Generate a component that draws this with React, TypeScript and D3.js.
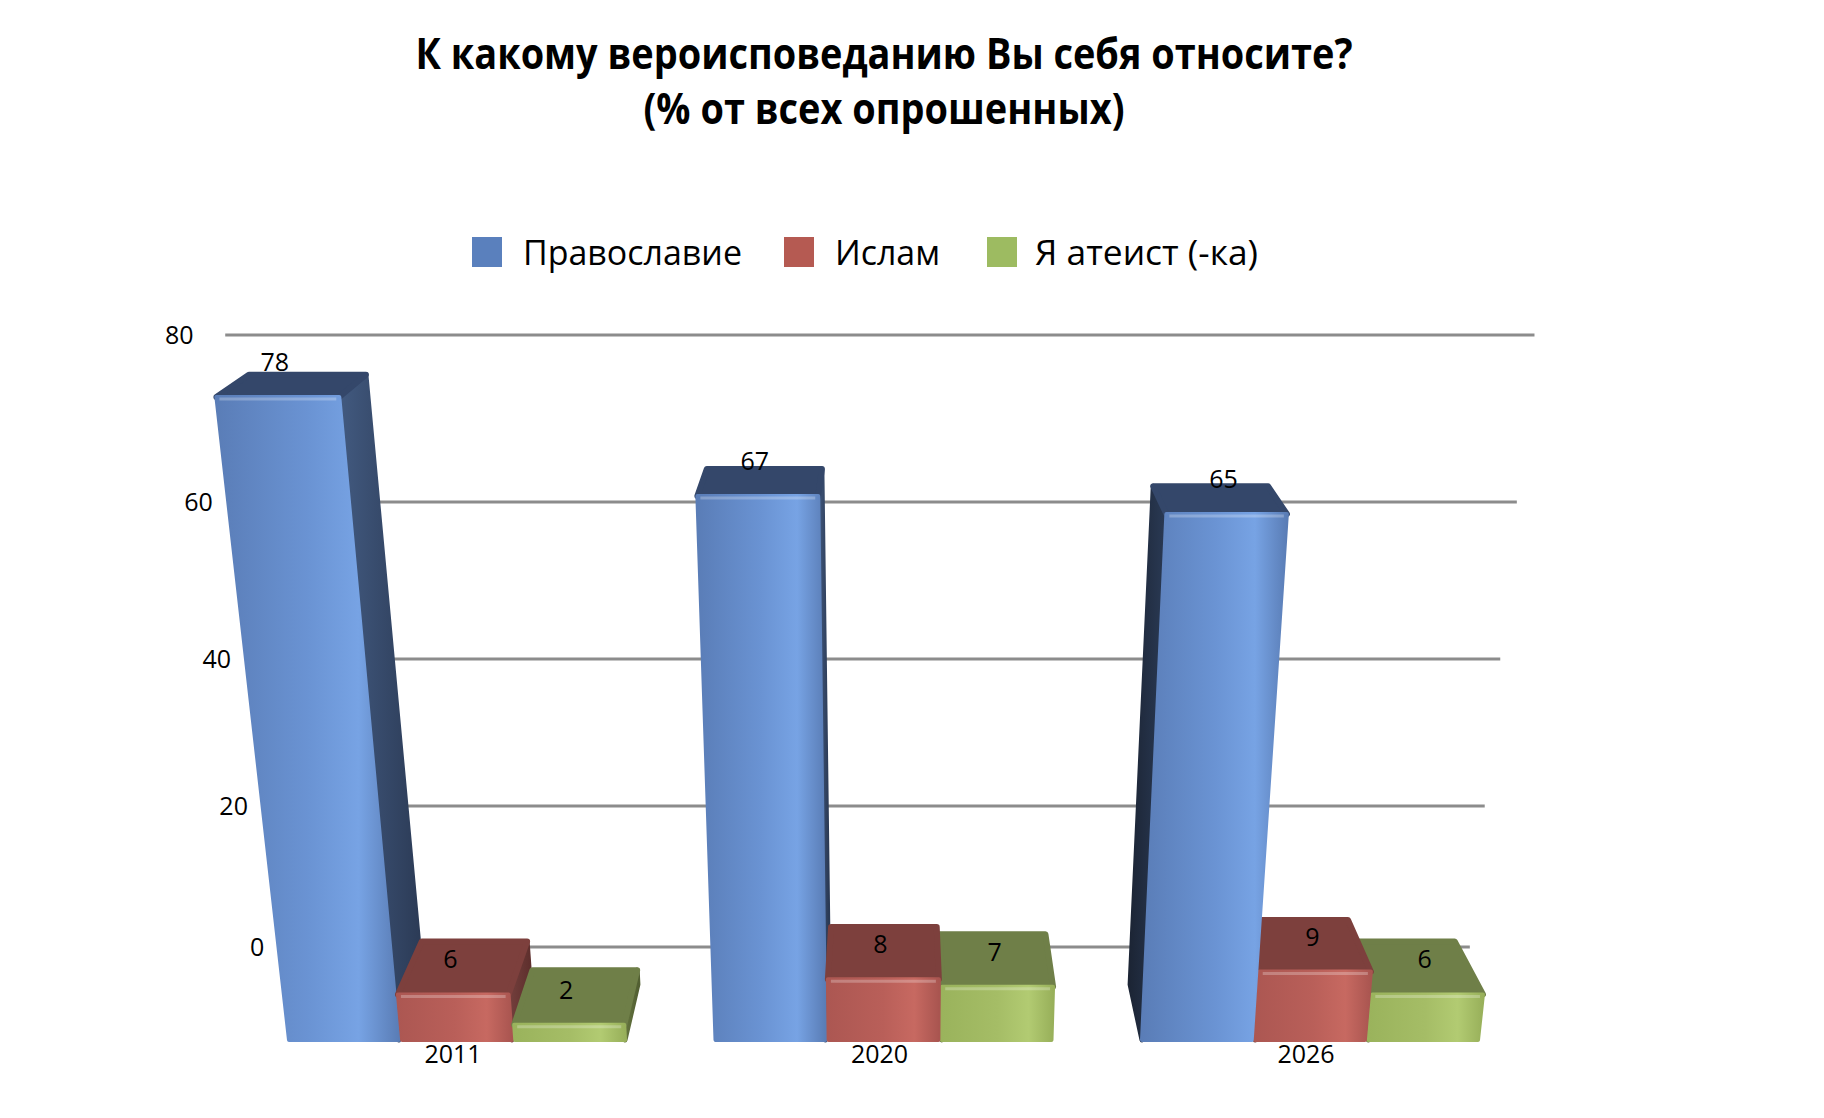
import React from "react";
import * as d3 from "d3";

const categories = ["2011", "2020", "2026"];
const seriesNames = ["Православие", "Ислам", "Я атеист (-ка)"];
const orthodox = [78, 67, 65];
const islam = [6, 8, 9];
const atheist = [2, 7, 6];
const yTicks = [0, 20, 40, 60, 80];
const titleLines = ["К какому вероисповеданию Вы себя относите?", "(% от всех опрошенных)"];

const seriesValues = [orthodox, islam, atheist];

const W = 1824;
const H = 1118;
const VPX = 894;
const VPY = 6397;
const YREF = 1040;

const palette = [
  { front: ["#5a7db7", "#6a93d3", "#77a3e4", "#5a7db6"], top: "#34476a", side: ["#425a80", "#2b3a55"], sideL: ["#1c2535", "#2a3a55"], legend: "#5a80bd" },
  { front: ["#ac5752", "#b95f59", "#c76961", "#a95550"], top: "#7d403d", side: ["#74403d", "#5e2f2d"], sideL: ["#4e2624", "#6a3532"], legend: "#b55a52" },
  { front: ["#9ab35c", "#a5bd66", "#b2cb72", "#98b05a"], top: "#6f7f48", side: ["#66763f", "#525f32"], sideL: ["#46512a", "#5e6c3a"], legend: "#9dbb61" },
];

function persp(xw: number, y: number) {
  return VPX + ((xw - VPX) * (VPY - y)) / (VPY - YREF);
}
const depthDx = (x: number) => -0.048 * (x - VPX);
const depthDy = (v: number) => -(55.5 - 0.426 * v);

export default function App() {
  const wallY = d3.scaleLinear().domain(yTicks).range([947, 806, 659, 502, 335]);
  const frontY = d3.scaleLinear().domain(yTicks).range([1040, 888, 729, 559, 379]);
  const xGroup = d3.scalePoint<string>().domain(categories).range([457, 1310]);
  const xSeries = d3.scaleBand<string>().domain(seriesNames).range([-168, 168]).paddingInner(0.03);
  const bw = xSeries.bandwidth();

  const line = d3.line<[number, number]>();

  type Bar = { ci: number; si: number; v: number; xl: number; xr: number };
  const bars: Bar[] = [];
  categories.forEach((c, ci) => {
    seriesNames.forEach((s, si) => {
      const xl = (xGroup(c) as number) + (xSeries(s) as number);
      bars.push({ ci, si, v: seriesValues[si][ci], xl, xr: xl + bw });
    });
  });
  const drawOrder = [...bars].sort(
    (a, b) => Math.abs(b.xl + bw / 2 - VPX) - Math.abs(a.xl + bw / 2 - VPX)
  );

  const gridLeft = 303;
  const gridRight = 1460;
  const labelRight = 275;

  const legendLayout = [
    { sq: 472, tx: 523, len: 219 },
    { sq: 784, tx: 835, len: 105 },
    { sq: 987, tx: 1035, len: 223 },
  ];

  const font = "'Open Sans', 'Noto Sans', sans-serif";

  return (
    <svg
      width={W}
      height={H}
      viewBox={`0 0 ${W} ${H}`}
      style={{ position: "absolute", left: 0, top: 0, display: "block", background: "#ffffff" }}
    >
      <defs>
        {palette.map((p, i) => (
          <React.Fragment key={i}>
            <linearGradient id={`front${i}`} x1="0" x2="1" y1="0" y2="0">
              <stop offset="0" stopColor={p.front[0]} />
              <stop offset="0.5" stopColor={p.front[1]} />
              <stop offset="0.78" stopColor={p.front[2]} />
              <stop offset="1" stopColor={p.front[3]} />
            </linearGradient>
            <linearGradient id={`side${i}`} x1="0" x2="1" y1="0" y2="0">
              <stop offset="0" stopColor={p.side[0]} />
              <stop offset="1" stopColor={p.side[1]} />
            </linearGradient>
            <linearGradient id={`sideL${i}`} x1="0" x2="1" y1="0" y2="0">
              <stop offset="0" stopColor={p.sideL[0]} />
              <stop offset="1" stopColor={p.sideL[1]} />
            </linearGradient>
          </React.Fragment>
        ))}
      </defs>
      <rect x={0} y={0} width={W} height={H} fill="#ffffff" />

      {/* title */}
      {titleLines.map((t, i) => (
        <text
          key={i}
          x={884}
          y={i === 0 ? 69 : 124}
          textAnchor="middle"
          fontFamily={font}
          fontWeight={700}
          fontSize={43}
          textLength={i === 0 ? 937 : 481}
          lengthAdjust="spacingAndGlyphs"
          fill="#000"
        >
          {t}
        </text>
      ))}

      {/* legend */}
      {seriesNames.map((s, i) => (
        <g key={s}>
          <rect x={legendLayout[i].sq} y={237} width={30} height={30} fill={palette[i].legend} />
          <text
            x={legendLayout[i].tx}
            y={265}
            fontFamily={font}
            fontSize={35}
            textLength={legendLayout[i].len}
            lengthAdjust="spacingAndGlyphs"
            fill="#000"
          >
            {s}
          </text>
        </g>
      ))}

      {/* gridlines and y labels */}
      {yTicks.map((t) => {
        const y = wallY(t);
        return (
          <g key={t}>
            <line
              x1={persp(gridLeft, y)}
              x2={persp(gridRight, y)}
              y1={y}
              y2={y}
              stroke="#8c8c8c"
              strokeWidth={3}
            />
            <text
              x={persp(labelRight, y)}
              y={y + 9}
              textAnchor="end"
              fontFamily={font}
              fontSize={25}
              fill="#000"
            >
              {t}
            </text>
          </g>
        );
      })}

      {/* bars */}
      {drawOrder.map((b) => {
        const yT = frontY(b.v);
        const yB = YREF;
        const xlT = persp(b.xl, yT);
        const xrT = persp(b.xr, yT);
        const xlB = persp(b.xl, yB);
        const xrB = persp(b.xr, yB);
        const dyT = depthDy(b.v);
        const dyB = depthDy(0);
        const p = palette[b.si];
        const dxR = depthDx(xrT);
        const dxL = depthDx(xlT);
        const front: [number, number][] = [
          [xlT, yT],
          [xrT, yT],
          [xrB, yB],
          [xlB, yB],
        ];
        const top: [number, number][] = [
          [xlT, yT],
          [xlT + dxL, yT + dyT],
          [xrT + dxR, yT + dyT],
          [xrT, yT],
        ];
        let side: [number, number][] | null = null;
        let sideFill = "";
        if (dxR > 2) {
          side = [
            [xrT, yT],
            [xrT + dxR, yT + dyT],
            [xrB + depthDx(xrB), yB + dyB],
            [xrB, yB],
          ];
          sideFill = `url(#side${b.si})`;
        } else if (dxL < -2) {
          side = [
            [xlT + dxL, yT + dyT],
            [xlT, yT],
            [xlB, yB],
            [xlB + depthDx(xlB), yB + dyB],
          ];
          sideFill = `url(#sideL${b.si})`;
        }
        return (
          <g key={`${b.ci}-${b.si}`}>
            {side && (
              <path
                d={line(side) + "Z"}
                fill={sideFill}
                stroke={sideFill}
                strokeWidth={5}
                strokeLinejoin="round"
              />
            )}
            <path
              d={line(top) + "Z"}
              fill={p.top}
              stroke={p.top}
              strokeWidth={6}
              strokeLinejoin="round"
            />
            <path
              d={line(front) + "Z"}
              fill={`url(#front${b.si})`}
              stroke={`url(#front${b.si})`}
              strokeWidth={4}
              strokeLinejoin="round"
            />
            <path
              d={line([
                [xlT + 3, yT + 2],
                [xrT - 3, yT + 2],
              ])!}
              stroke="#ffffff"
              strokeOpacity={0.25}
              strokeWidth={3}
            />
          </g>
        );
      })}

      {/* value labels */}
      {bars.map((b) => {
        const yT = frontY(b.v);
        const xc = (persp(b.xl, yT) + persp(b.xr, yT)) / 2;
        return (
          <text
            key={`lbl-${b.ci}-${b.si}`}
            x={xc - 3}
            y={yT - 26}
            textAnchor="middle"
            fontFamily={font}
            fontSize={25}
            fill="#000"
          >
            {b.v}
          </text>
        );
      })}

      {/* category labels */}
      {categories.map((c) => (
        <text
          key={c}
          x={(xGroup(c) as number) - 4}
          y={1063}
          textAnchor="middle"
          fontFamily={font}
          fontSize={25}
          fill="#000"
        >
          {c}
        </text>
      ))}
    </svg>
  );
}
